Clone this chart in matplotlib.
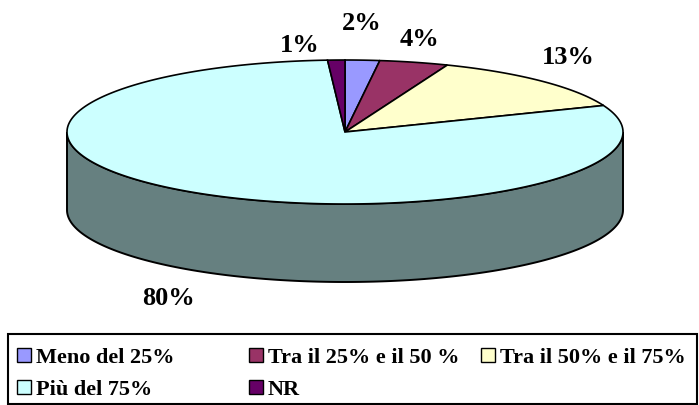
import numpy as np
import matplotlib.pyplot as plt
from matplotlib.patches import Polygon, Rectangle

labels = ['Meno del 25%', 'Tra il 25% e il 50 %', 'Tra il 50% e il 75%', 'Più del 75%', 'NR']
values = [2, 4, 13, 80, 1]
pct_text = ['2%', '4%', '13%', '80%', '1%']
colors = ['#9999FF', '#993366', '#FFFFCC', '#CCFFFF', '#660066']
side_color = '#668080'

# pie geometry in pixel units
cx, cy = 345, 133
a, b = 278, 72
depth = 78
# label offsets from the rim point at each slice's middle angle
label_off = [(-1, -38), (5, -24), (27, -25), (-28, 27), (-37, -16)]

font = {'family': 'Liberation Serif', 'weight': 'bold'}


def rim(t, dy=0):
    t = np.radians(t)
    return np.column_stack([cx + a*np.cos(t), cy - b*np.sin(t) + dy])


fig = plt.figure(figsize=(6.99, 4.06), dpi=100)
ax = fig.add_axes([0, 0, 1, 1])
ax.set_xlim(0, 699)
ax.set_ylim(406, 0)
ax.axis('off')

# front wall
t = np.linspace(180, 360, 200)
wall = np.vstack([rim(t), rim(t[::-1], depth)])
ax.add_patch(Polygon(wall, closed=True, fc=side_color, ec='black', lw=1.4))

# top face, clockwise from 12 o'clock
total = float(sum(values))
start = 90.0
for i, v in enumerate(values):
    sweep = 360.0 * v / total
    t = np.linspace(start, start - sweep, max(3, int(sweep * 2)))
    pts = np.vstack([[cx, cy], rim(t)])
    ax.add_patch(Polygon(pts, closed=True, fc=colors[i], ec='black', lw=1.2))

    mid = start - sweep / 2.0
    p = rim(mid)[0]
    if np.sin(np.radians(mid)) < 0:
        p[1] += depth
    ax.text(p[0] + label_off[i][0], p[1] + label_off[i][1], pct_text[i],
            ha='center', va='center', fontsize=19, **font)
    start -= sweep

# legend box, Excel style grid: 3 columns, filled row by row
ax.add_patch(Rectangle((8, 335), 689, 70, fc='white', ec='black', lw=1.5))
col_w, row_h = 232, 32
for i, lab in enumerate(labels):
    x = 17 + (i % 3) * col_w
    base = 363 + (i // 3) * row_h
    ax.add_patch(Rectangle((x, base - 14), 14, 14, fc=colors[i], ec='black', lw=1.0))
    ax.text(x + 19, base, lab, ha='left', va='baseline', fontsize=16, **font)

fig.savefig('out.png', dpi=100)
